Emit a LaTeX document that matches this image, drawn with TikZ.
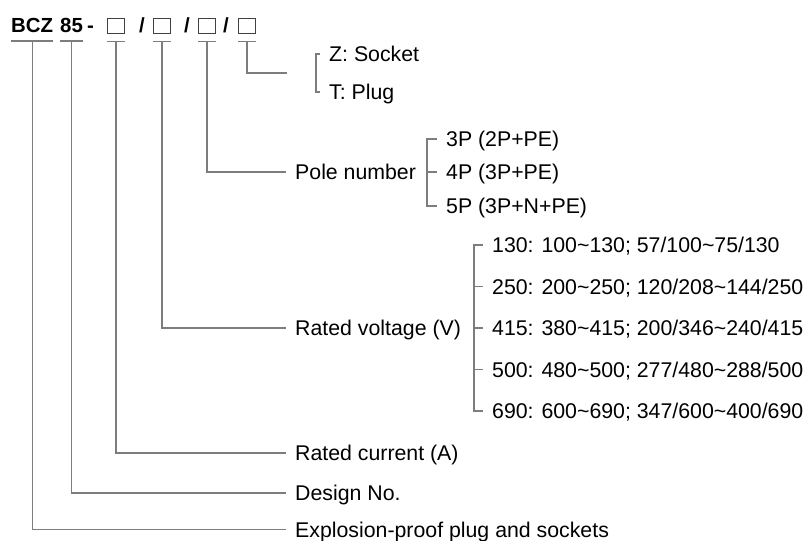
\documentclass[tikz,border=0pt]{standalone}
\usepackage{fontspec}
\setmainfont{Liberation Sans}
\usetikzlibrary{positioning,calc}
\definecolor{leadgray}{RGB}{125,125,125}
\newcommand{\rng}{\textasciitilde}

\begin{document}
\begin{tikzpicture}[x=1pt, y=-1pt,
    lead/.style={draw=leadgray, line width=1.1pt},
    part/.style={anchor=west, inner sep=0pt, text height=14.6pt, text depth=0pt, font=\fontsize{20.4}{24}\selectfont\bfseries},
    slot/.style={draw=black!75, line width=1pt, minimum width=17pt, minimum height=15pt, inner sep=0pt},
    desc/.style={anchor=west, inner ysep=0pt, inner xsep=9pt, text height=15.2pt, text depth=0pt, font=\fontsize{21.3}{25}\selectfont},
    item/.style={desc}]
    \useasboundingbox (0,0) rectangle (807,541);

    % Type code
    \node[part] (bcz) at (11,25.5) {BCZ};
    \node[part] (dsg) at (60,25.5) {85};
    \node[part] (dash) at (87,25.5) {-};
    \node[slot] (s1) at (116,25.5) {};
    \node[part] (sl1) at (139,25.5) {/};
    \node[slot] (s2) at (162,25.5) {};
    \node[part] (sl2) at (184,25.5) {/};
    \node[slot] (s3) at (207,25.5) {};
    \node[part] (sl3) at (223,25.5) {/};
    \node[slot] (s4) at (247,25.5) {};

    % Labels
    \node[desc] (explo) at (286,529.5) {Explosion-proof plug and sockets};
    \node[desc] (design) at (286,493) {Design No.};
    \node[desc] (current) at (286,453) {Rated current (A)};
    \node[desc] (voltage) at (286,328) {Rated voltage (V)};
    \node[desc] (pole) at (286,172) {Pole number};
    \coordinate (kind) at (287,73);

    % Choices
    \node[item] (sock) at (320,54) {Z: Socket};
    \node[item] (plug) at (320,92) {T: Plug};
    \node[item] (p1) at (437,139) {3P (2P+PE)};
    \node[item] (p2) at (437,172) {4P (3P+PE)};
    \node[item] (p3) at (437,206) {5P (3P+N+PE)};
    \foreach \v [count=\i] in {130: 100\rng130; 57/100\rng75/130,
                               250: 200\rng250; 120/208\rng144/250,
                               415: 380\rng415; 200/346\rng240/415,
                               500: 480\rng500; 277/480\rng288/500,
                               690: 600\rng690; 347/600\rng400/690}
        \node[item] (v\i) at (483,{245+41.5*(\i-1)}) {\v};

    % Connections
    \foreach \n in {bcz,dsg,s1,s2,s3,s4}
        \draw[lead] ([yshift=-8pt]\n.south west) -- ([yshift=-8pt]\n.south east);
    \draw[lead] ([yshift=-8pt]bcz.south) |- (explo.west);
    \draw[lead] ([yshift=-8pt]dsg.south) |- (design.west);
    \draw[lead] ([yshift=-8pt]s1.south) |- (current.west);
    \draw[lead] ([yshift=-8pt]s2.south) |- (voltage.west);
    \draw[lead] ([yshift=-8pt]s3.south) |- (pole.west);
    \draw[lead] ([yshift=-8pt]s4.south) |- (kind);

    % Brackets
    \draw[lead] (sock.west) -- ++(-4,0) |- (plug.west);
    \draw[lead] (p1.west) -- ++(-10,0) |- (p3.west);
    \draw[lead] (p2.west) -- ++(-10,0);
    \draw[lead] (v1.west) -- ++(-9,0) |- (v5.west);
    \foreach \i in {2,3,4}
        \draw[lead] (v\i.west) -- ++(-9,0);
\end{tikzpicture}
\end{document}
